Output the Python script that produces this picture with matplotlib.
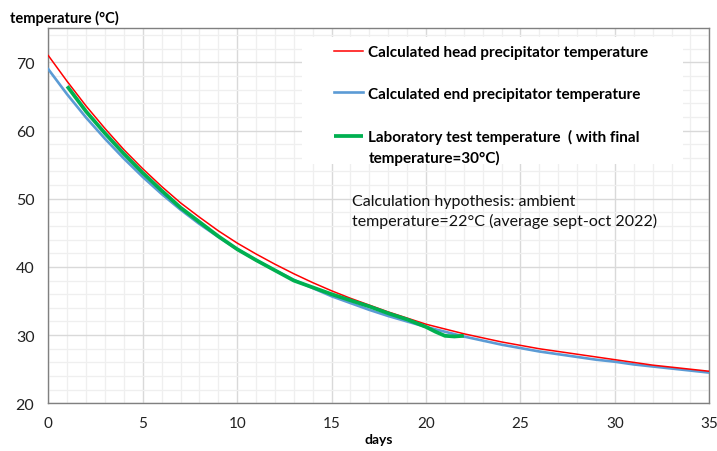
import matplotlib
matplotlib.use("Agg")
import matplotlib.pyplot as plt
from matplotlib.patches import Rectangle
from matplotlib.ticker import MultipleLocator

plt.rcParams["font.family"] = ["Lato", "DejaVu Sans"]

# values
days = list(range(0, 36))
head_temp = [71.0, 67.2, 63.6, 60.3, 57.2, 54.4, 51.8, 49.4, 47.3, 45.3,
             43.5, 41.9, 40.4, 39.0, 37.7, 36.5, 35.4, 34.4, 33.4, 32.5,
             31.6, 30.9, 30.2, 29.6, 29.0, 28.5, 28.0, 27.6, 27.2, 26.8,
             26.4, 26.0, 25.6, 25.3, 25.0, 24.7]
end_temp = [69.0, 65.3, 61.9, 58.8, 55.9, 53.2, 50.7, 48.4, 46.3, 44.4,
            42.6, 41.0, 39.5, 38.1, 36.9, 35.7, 34.7, 33.7, 32.8, 32.0,
            31.2, 30.5, 29.8, 29.2, 28.6, 28.1, 27.6, 27.2, 26.8, 26.4,
            26.1, 25.7, 25.4, 25.1, 24.8, 24.5]
lab_days = [1, 2, 3, 4, 5, 6, 7, 8, 9, 10, 11, 12, 13, 14, 15, 16, 17, 18,
            19, 20, 20.5, 21, 21.5, 22]
lab_temp = [66.5, 62.8, 59.6, 56.6, 53.8, 51.2, 48.7, 46.6, 44.5, 42.6,
            41.0, 39.5, 38.0, 37.0, 36.0, 35.1, 34.2, 33.2, 32.3, 31.2,
            30.5, 29.9, 29.8, 29.9]

labels = ["Calculated head precipitator temperature",
          "Calculated end precipitator temperature",
          "Laboratory test temperature  ( with final\ntemperature=30°C)"]
note = "Calculation hypothesis: ambient\ntemperature=22°C (average sept-oct 2022)"

fig = plt.figure(figsize=(7.17, 4.52), dpi=100)
ax = fig.add_axes([0.0674, 0.1055, 0.9219, 0.8297])

l_end, = ax.plot(days, end_temp, color="#5B9BD5", lw=1.9, zorder=3)
l_head, = ax.plot(days, head_temp, color="#FF0000", lw=1.1, zorder=4)
l_lab, = ax.plot(lab_days, lab_temp, color="#00B050", lw=2.7, zorder=5,
                 solid_capstyle="butt")

ax.set_xlim(0, 35)
ax.set_ylim(20, 75)
ax.xaxis.set_major_locator(MultipleLocator(5))
ax.xaxis.set_minor_locator(MultipleLocator(1))
ax.yaxis.set_major_locator(MultipleLocator(10))
ax.yaxis.set_minor_locator(MultipleLocator(2))
ax.set_axisbelow(True)
ax.grid(which="major", color="#d9d9d9", lw=1.0)
ax.grid(which="minor", color="#efefef", lw=0.9)
ax.tick_params(which="both", length=0, colors="#222222")
ax.tick_params(axis="y", pad=10, labelsize=11.5)
ax.tick_params(axis="x", pad=9, labelsize=11)
for s in ax.spines.values():
    s.set_color("#808080")
    s.set_linewidth(1.0)

# white legend area
ax.add_patch(Rectangle((302, 452 - 165), 381, 127, transform=None,
                       facecolor="white", edgecolor="none", zorder=1))
leg = ax.legend([l_head, l_end, l_lab], labels, loc="upper left",
                bbox_to_anchor=((334 - 48.3) / 661, (404.3 - 46) / 375),
                frameon=False, borderpad=0, borderaxespad=0,
                handlelength=1.9, handletextpad=0.35, labelspacing=1.82,
                prop={"weight": "bold", "size": 11})
leg.get_texts()[2].set_linespacing(1.5)
# Excel puts the handle beside the first line of a wrapped label
green_handle = leg.legend_handles[2]
green_handle.set_ydata([y + 8 for y in green_handle.get_ydata()])

ax.text(352, 452 - 195, note, transform=None, fontsize=11.5, va="top",
        ha="left", linespacing=1.4, color="#111111")

fig.text(10 / 717, 1 - 18 / 452, "temperature (°C)", fontsize=10.5,
         weight="bold", ha="left", va="center")
ax.set_xlabel("days", fontsize=10, weight="bold", labelpad=2)

fig.savefig("out.png", dpi=100)
